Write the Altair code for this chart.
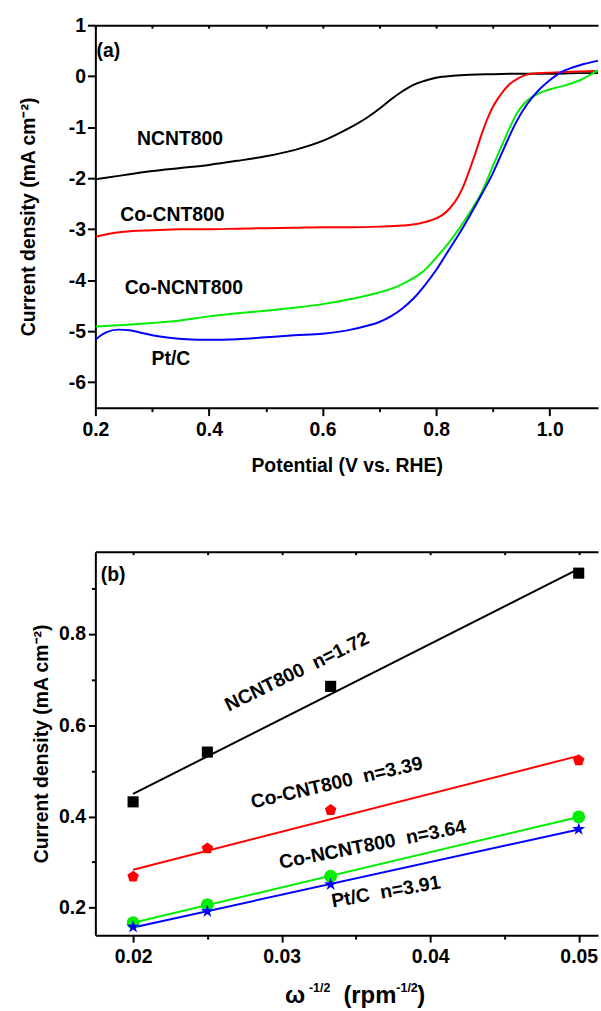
import altair as alt
import pandas as pd

FONT = "Liberation Sans"
FS = 19.5

# ---------------- panel (a): LSV curves ----------------
series = ["NCNT800", "Co-CNT800", "Co-NCNT800", "Pt/C"]
colors = ["#000000", "#FF0000", "#00EE00", "#0000FF"]

ncnt_v = [0.20, 0.25, 0.30, 0.35, 0.40, 0.45, 0.50, 0.55, 0.60, 0.62, 0.65, 0.68, 0.70,
          0.72, 0.74, 0.76, 0.78, 0.80, 0.83, 0.86, 0.90, 0.95, 1.00, 1.05, 1.085]
ncnt_j = [-2.02, -1.94, -1.86, -1.80, -1.74, -1.66, -1.57, -1.45, -1.27, -1.17, -1.00, -0.80, -0.64,
          -0.46, -0.30, -0.17, -0.09, -0.03, 0.01, 0.03, 0.04, 0.05, 0.05, 0.06, 0.06]

cocnt_v = [0.20, 0.22, 0.25, 0.30, 0.35, 0.40, 0.45, 0.50, 0.55, 0.60, 0.65, 0.70, 0.74, 0.77,
           0.79, 0.81, 0.825, 0.84, 0.85, 0.86, 0.87, 0.88, 0.89, 0.90, 0.91, 0.92, 0.93, 0.945,
           0.96, 0.98, 1.00, 1.05, 1.085]
cocnt_j = [-3.15, -3.10, -3.05, -3.02, -3.00, -3.00, -2.99, -2.98, -2.97, -2.96, -2.96, -2.95, -2.93, -2.89,
           -2.83, -2.73, -2.58, -2.34, -2.10, -1.80, -1.48, -1.14, -0.84, -0.60, -0.42, -0.27, -0.15, -0.04,
           0.03, 0.06, 0.07, 0.09, 0.10]

concnt_v = [0.20, 0.25, 0.30, 0.35, 0.40, 0.45, 0.50, 0.55, 0.60, 0.65, 0.70, 0.73, 0.76, 0.78,
            0.80, 0.82, 0.84, 0.86, 0.88, 0.90, 0.92, 0.93, 0.94, 0.95, 0.96, 0.97, 0.98, 1.00,
            1.03, 1.055, 1.07, 1.085]
concnt_j = [-4.91, -4.88, -4.84, -4.79, -4.71, -4.65, -4.60, -4.54, -4.47, -4.37, -4.24, -4.13, -3.96, -3.80,
            -3.56, -3.30, -3.00, -2.66, -2.28, -1.76, -1.25, -1.00, -0.77, -0.60, -0.48, -0.40, -0.34, -0.26,
            -0.17, -0.07, 0.02, 0.12]

ptc_v = [0.20, 0.21, 0.22, 0.24, 0.26, 0.28, 0.30, 0.33, 0.36, 0.40, 0.45, 0.50, 0.55, 0.60, 0.65,
         0.68, 0.70, 0.72, 0.74, 0.76, 0.78, 0.80, 0.82, 0.84, 0.86, 0.88, 0.90, 0.92, 0.94, 0.96,
         0.98, 1.00, 1.02, 1.04, 1.06, 1.085]
ptc_j = [-5.17, -5.08, -5.02, -4.97, -4.98, -5.03, -5.08, -5.13, -5.16, -5.17, -5.16, -5.12, -5.08, -5.05, -4.97,
         -4.89, -4.82, -4.71, -4.56, -4.36, -4.10, -3.80, -3.45, -3.10, -2.72, -2.32, -1.90, -1.40, -0.92, -0.55,
         -0.28, -0.08, 0.08, 0.17, 0.24, 0.30]

labels_a = ["(a)", "NCNT800", "Co-CNT800", "Co-NCNT800", "Pt/C"]
labels_a_x = [0.2227, 0.349, 0.3356, 0.3557, 0.333]
labels_a_y = [0.50, -1.24, -2.72, -4.15, -5.54]

# ---------------- panel (b): K-L plots ----------------
omega = [0.02, 0.025, 0.0333, 0.05]
j_ncnt = [0.432, 0.541, 0.685, 0.933]
j_cocnt = [0.268, 0.330, 0.414, 0.523]
j_concnt = [0.167, 0.2065, 0.269, 0.399]
j_ptc = [0.158, 0.192, 0.251, 0.372]

NB = "\u00a0\u00a0"
labels_b = ["(b)", "NCNT800" + NB + "n=1.72", "Co-CNT800" + NB + "n=3.39",
            "Co-NCNT800" + NB + "n=3.64", "Pt/C" + NB + "n=3.91"]
labels_b_x = [0.01866, 0.03104, 0.03371, 0.03612, 0.03702]
labels_b_y = [0.928, 0.717, 0.4736, 0.338, 0.2346]
labels_b_angle = [0, 334, 347, 349, 350]

# x-axis title of panel (b), written in pieces so that the exponents are raised
xtitle_b_text = ["ω", "-1/2", "(rpm", "-1/2", ")"]

# tick positions
xa_major = [0.2, 0.4, 0.6, 0.8, 1.0]
xa_minor = [0.3, 0.5, 0.7, 0.9]
xa_top = [0.2, 0.3, 0.4, 0.5, 0.6, 0.7, 0.8, 0.9, 1.0]
ya_major = [-6, -5, -4, -3, -2, -1, 0, 1]
xb_major = [0.02, 0.03, 0.04, 0.05]
xb_minor = [0.025, 0.035, 0.045]
xb_top = [0.02, 0.025, 0.03, 0.035, 0.04, 0.045, 0.05]
yb_major = [0.2, 0.4, 0.6, 0.8]
yb_minor = [0.3, 0.5, 0.7, 0.9]

# ---------------- build tables ----------------
rows = []
for name, xs, ys in zip(series, [ncnt_v, cocnt_v, concnt_v, ptc_v], [ncnt_j, cocnt_j, concnt_j, ptc_j]):
    for x, y in zip(xs, ys):
        rows.append({"series": name, "potential": x, "current": y})
df_a = pd.DataFrame(rows)
ann_a = pd.DataFrame({"label": labels_a, "x": labels_a_x, "y": labels_a_y})

rows = []
for name, ys in zip(series, [j_ncnt, j_cocnt, j_concnt, j_ptc]):
    for x, y in zip(omega, ys):
        rows.append({"series": name, "omega": x, "j": y})
df_b = pd.DataFrame(rows)
ann_b = pd.DataFrame({"label": labels_b, "x": labels_b_x, "y": labels_b_y, "angle": labels_b_angle})
one_row = pd.DataFrame({"k": [0]})

color = alt.Color("series:N", scale=alt.Scale(domain=series, range=colors), legend=None)

pentagon = "M0,-1L0.951,-0.309L0.588,0.809L-0.588,0.809L-0.951,-0.309Z"
star = ("M0,-1L0.225,-0.309L0.951,-0.309L0.363,0.118L0.588,0.809L0,0.382"
        "L-0.588,0.809L-0.363,0.118L-0.951,-0.309L-0.225,-0.309Z")
shapes = ["square", pentagon, "circle", star]
sizes = [125, 190, 160, 230]

W, H = 506, 385
HB = H + 1

# ---------------- panel (a) chart ----------------
xs_a = alt.Scale(domain=[0.2, 1.085], nice=False, zero=False)
ys_a = alt.Scale(domain=[-6.5, 1.0], nice=False, zero=False)

int_label = "datum.value < 0 ? '-' + format(-datum.value, 'd') : format(datum.value, 'd')"

lines_a = alt.Chart(df_a).mark_line(strokeWidth=2, interpolate="monotone", clip=True).encode(
    x=alt.X("potential:Q", scale=xs_a,
            axis=alt.Axis(values=xa_major, format=".1f", tickSize=8,
                          labelPadding=5, titlePadding=18, labelFlush=False,
                          title="Potential (V vs. RHE)", orient="bottom")),
    y=alt.Y("current:Q", scale=ys_a,
            axis=alt.Axis(values=ya_major, labelExpr=int_label, tickSize=8,
                          labelPadding=2, titlePadding=30, labelFlush=False,
                          title="Current density (mA cm⁻²)", orient="left")),
    color=color,
)


def axis_only(df, xf, yf, xscale, yscale, xaxis):
    return alt.Chart(df).mark_point(opacity=0).encode(
        x=alt.X(xf, scale=xscale, axis=xaxis),
        y=alt.Y(yf, scale=yscale, axis=None),
    )


minor_a = axis_only(df_a, "potential:Q", "current:Q", xs_a, ys_a,
                    alt.Axis(values=xa_minor, tickSize=4, labels=False, domain=False,
                             title=None, orient="bottom"))
frame_a = axis_only(df_a, "potential:Q", "current:Q", xs_a, ys_a,
                    alt.Axis(orient="top", ticks=False, labels=False, title=None, domain=True))
inner_a = axis_only(df_a, "potential:Q", "current:Q", xs_a, ys_a,
                    alt.Axis(values=xa_top, orient="bottom", offset=-H, tickSize=3, labels=False,
                             domain=False, title=None))

text_a = alt.Chart(ann_a).mark_text(font=FONT, fontSize=FS, fontWeight="bold", color="black",
                                    align="center", baseline="middle").encode(
    x=alt.X("x:Q", scale=xs_a, axis=None),
    y=alt.Y("y:Q", scale=ys_a, axis=None),
    text="label:N",
)

panel_a = alt.layer(lines_a, minor_a, frame_a, inner_a, text_a).resolve_axis(
    x="independent", y="independent").properties(width=W, height=H)

# ---------------- panel (b) chart ----------------
xs_b = alt.Scale(domain=[0.01746, 0.0513], nice=False, zero=False)
ys_b = alt.Scale(domain=[0.14, 0.98], nice=False, zero=False)

fit_b = alt.Chart(df_b).transform_regression("omega", "j", groupby=["series"]).mark_line(
    strokeWidth=2).encode(
    x=alt.X("omega:Q", scale=xs_b,
            axis=alt.Axis(values=xb_major, format=".2f", tickSize=7,
                          labelPadding=6, labelFlush=False, title=None, orient="bottom")),
    y=alt.Y("j:Q", scale=ys_b,
            axis=alt.Axis(values=yb_major, format=".1f", tickSize=7,
                          labelPadding=3, titlePadding=7, labelFlush=False,
                          title="Current density (mA cm⁻²)", orient="left")),
    color=color,
)

pts_b = alt.Chart(df_b).mark_point(filled=True, opacity=1, strokeWidth=0).encode(
    x=alt.X("omega:Q", scale=xs_b,
            axis=alt.Axis(values=xb_minor, tickSize=4, labels=False, domain=False,
                          title=None, orient="bottom")),
    y=alt.Y("j:Q", scale=ys_b,
            axis=alt.Axis(values=yb_minor, tickSize=4, labels=False, domain=False,
                          title=None, orient="left")),
    color=color,
    shape=alt.Shape("series:N", scale=alt.Scale(domain=series, range=shapes), legend=None),
    size=alt.Size("series:N", scale=alt.Scale(domain=series, range=sizes), legend=None),
)

frame_b = axis_only(df_b, "omega:Q", "j:Q", xs_b, ys_b,
                    alt.Axis(orient="top", ticks=False, labels=False, title=None, domain=True))
inner_b = axis_only(df_b, "omega:Q", "j:Q", xs_b, ys_b,
                    alt.Axis(values=xb_top, orient="bottom", offset=-HB, tickSize=3, labels=False,
                             domain=False, title=None))

text_b = alt.Chart(ann_b).mark_text(font=FONT, fontSize=FS, fontWeight="bold", color="black",
                                    align="center", baseline="middle").encode(
    x=alt.X("x:Q", scale=xs_b, axis=None),
    y=alt.Y("y:Q", scale=ys_b, axis=None),
    text="label:N",
    angle=alt.Angle("angle:Q", scale=None),
)


def title_piece(txt, size, x, y, align="left"):
    return alt.Chart(one_row).mark_text(font=FONT, fontSize=size, fontWeight="bold", color="black",
                                        align=align, baseline="alphabetic", text=txt).encode(
        x=alt.value(x), y=alt.value(y))


xt = [
    title_piece(xtitle_b_text[0], 24, 191, HB + 68),
    title_piece(xtitle_b_text[1], 12.5, 215, HB + 57),
    title_piece(xtitle_b_text[2], 24, 303, HB + 68, align="right"),
    title_piece(xtitle_b_text[3], 12.5, 303, HB + 57),
    title_piece(xtitle_b_text[4], 24, 324, HB + 68),
]

panel_b = alt.layer(fit_b, pts_b, frame_b, inner_b, text_b, *xt).resolve_axis(
    x="independent", y="independent").properties(width=W, height=HB)

chart = alt.vconcat(panel_a, panel_b, spacing=76).resolve_scale(
    color="shared", shape="independent", size="independent"
).properties(
    padding={"left": 18, "top": 12, "right": 0, "bottom": 0},
    background="white",
).configure_view(stroke=None).configure_axis(
    labelFont=FONT, labelFontSize=FS, labelFontWeight="bold", labelColor="black",
    titleFont=FONT, titleFontSize=FS, titleFontWeight="bold", titleColor="black",
    domainColor="black", domainWidth=2, tickColor="black", tickWidth=2, grid=False,
    labelOverlap=False,
)

chart.save("out.html", embed_options={"renderer": "svg", "actions": False})
